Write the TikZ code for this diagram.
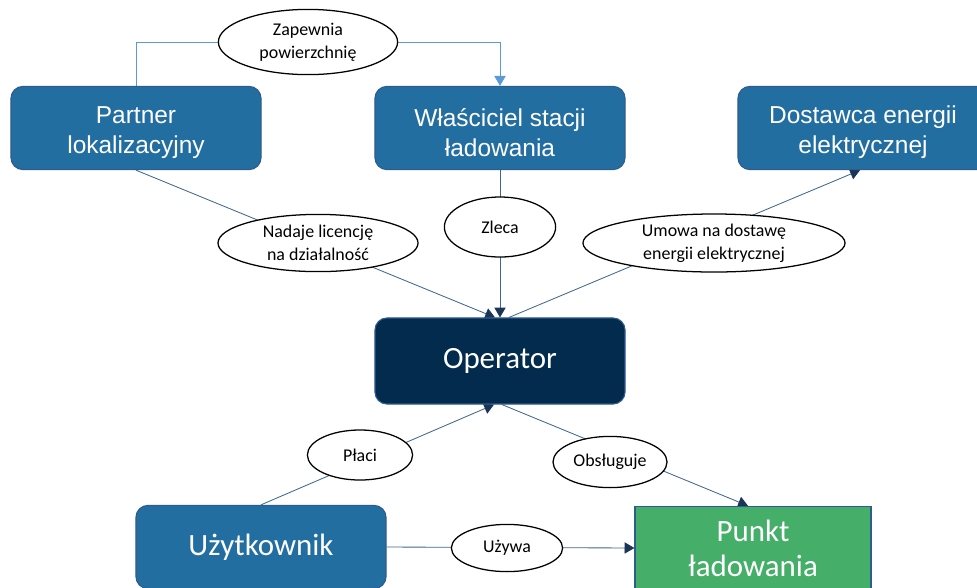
\documentclass[tikz,border=0pt]{standalone}
\usepackage{fontspec}
\setmainfont{Carlito}
\newfontfamily\arialfont{Liberation Sans}
\usetikzlibrary{shapes.geometric, arrows.meta, calc, backgrounds}
\definecolor{boxblue}{HTML}{236EA0}
\definecolor{boxedge}{HTML}{2F5C8F}
\definecolor{opnavy}{HTML}{022B4E}
\definecolor{ptgreen}{HTML}{45AE68}
\definecolor{linecol}{HTML}{41678F}
\definecolor{tipnavy}{HTML}{1B3558}
\definecolor{toplink}{HTML}{5B9BD5}
\newcommand\topstrut{\rule{0pt}{19pt}}

\begin{document}
\begin{tikzpicture}[x=0.025cm, y=-0.025cm,
  box/.style={draw=boxedge, line width=0.8pt, fill=boxblue, text=white, rounded corners=0.3cm,
    minimum width=6.25cm, minimum height=2.08cm, align=center, inner sep=0pt},
  topbox/.style={box, font=\arialfont\fontsize{17.4}{21.5}\selectfont},
  bigbox/.style={box, font=\fontsize{22}{24.8}\selectfont},
  oval/.style={ellipse, draw=black, line width=0.9pt, fill=white, align=center, inner sep=0pt,
    font=\fontsize{12.75}{16.3}\selectfont},
  link/.style={draw=linecol, line width=0.6pt},
  conn/.style={link, -{Triangle[width=8pt,length=7pt,color=tipnavy]}}]
\useasboundingbox (0,0) rectangle (977,587);

% boxes
\node[topbox] (partner) at (136,128) {\topstrut Partner\\lokalizacyjny};
\node[topbox] (wlasc) at (500,128) {\topstrut Właściciel stacji\\ładowania};
\node[topbox] (dostawca) at (863,128) {\topstrut Dostawca energii\\elektrycznej};
\node[bigbox, fill=opnavy, minimum height=2.15cm] (operator) at (500,361) {Operator};
\node[bigbox] (uzytk) at (261,547) {Użytkownik};
\node[bigbox, fill=ptgreen, rounded corners=0pt, minimum width=5.9cm] (punkt) at (753,548) {Punkt\\ładowania};

% relations
\node[oval, minimum width=4.48cm, minimum height=1.63cm] (zapewnia) at (308,42) {Zapewnia\\powierzchnię};
\node[oval, minimum width=5cm, minimum height=1.43cm] (nadaje) at (318,243) {Nadaje licencję\\na działalność};
\node[oval, minimum width=2.78cm, minimum height=1.5cm] (zleca) at (500,227) {Zleca};
\node[oval, minimum width=6.55cm, minimum height=1.45cm] (umowa) at (714,243) {Umowa na dostawę\\energii elektrycznej};
\node[oval, minimum width=2.63cm, minimum height=1.25cm] (placi) at (360,455) {Płaci};
\node[oval, minimum width=2.85cm, minimum height=1.28cm] (obsluguje) at (610,462) {Obsługuje};
\node[oval, minimum width=2.78cm, minimum height=1.18cm] (uzywa) at (507,548) {Używa};

\begin{pgfonlayer}{background}
\draw[draw=toplink, line width=0.6pt] (partner.north) |- (zapewnia.west);
\draw[draw=toplink, line width=0.6pt, -{Triangle[width=8pt,length=7pt]}] (zapewnia.east) -| (wlasc.north);
\draw[conn] (partner.south) -- ($(operator.north)+(-5,0)$);
\draw[conn] (wlasc.south) -- (operator.north);
\draw[conn] ($(operator.north)+(9,0)$) -- ($(dostawca.south)+(-3,0)$);
\draw[conn] (uzytk.north) -- ($(operator.south)+(-6,0)$);
\draw[conn] ($(operator.south)+(2,0)$) -- ($(punkt.north)+(-5,0)$);
\draw[conn] (uzytk.east) -- (punkt.west);
\end{pgfonlayer}
\end{tikzpicture}
\end{document}
